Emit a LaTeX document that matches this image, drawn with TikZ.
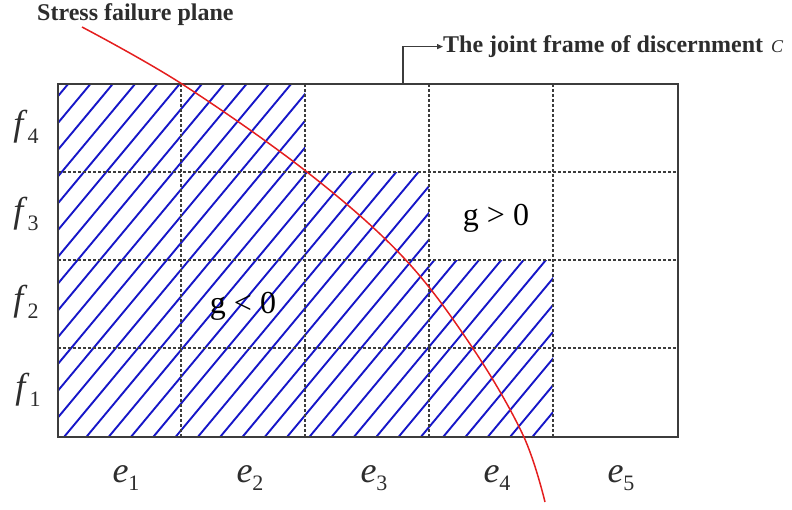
\documentclass[tikz,border=0pt]{standalone}
\usepackage{fontspec}
\setmainfont{Liberation Serif}
\usetikzlibrary{arrows.meta}
\definecolor{hatchblue}{RGB}{22,22,200}
\definecolor{curvered}{RGB}{228,30,30}
\definecolor{ink}{RGB}{45,45,45}
\definecolor{gridgray}{RGB}{60,60,60}
\newcommand{\ilab}[2]{\textit{#1}\raisebox{-8pt}{\fontsize{22}{22}\selectfont #2}}
\tikzset{
  hatchline/.style={draw=hatchblue, line width=1.9pt},
  gridline/.style={draw=gridgray, line width=1.2pt, dash pattern=on 3pt off 2pt},
  border/.style={draw=gridgray, line width=1.5pt},
  failcurve/.style={draw=curvered, line width=1.5pt},
  annot/.style={font=\fontsize{24}{28}\selectfont\bfseries, text=ink, inner sep=0pt},
  axislab/.style={font=\fontsize{36}{40}\selectfont, text=ink, inner sep=0pt, anchor=base},
  glab/.style={font=\fontsize{32}{36}\selectfont, text=black, inner sep=0pt, anchor=base},
  pointer/.style={draw=gridgray, line width=1.3pt, -{Triangle[length=6pt,width=5pt]}}
}
\begin{document}
\begin{tikzpicture}[x=1pt,y=-1pt]
\useasboundingbox (0,0) rectangle (792,509);
% hatched region
\begin{scope}
  \clip (58,84) -- (305,84) -- (305,172) -- (429,172) -- (429,260) -- (553,260) -- (553,437) -- (58,437) -- cycle;
  \foreach \k in {-14,...,22} {
    \draw[hatchline] ({64+22.3*\k-30},473) -- ++(354,-425);
  }
\end{scope}
% dashed grid
\foreach \xx in {181,305,429,553} {
  \draw[gridline] (\xx,84) -- (\xx,437);
}
\foreach \yy in {172,260,348} {
  \draw[gridline] (58,\yy) -- (678,\yy);
}
% frame
\draw[border] (58,84) rectangle (678,437);
% stress failure curve
\draw[failcurve] plot[smooth, tension=0.6] coordinates {(82,27) (182,84) (307,172) (403,257) (472,347) (523,435) (545,502)};
% annotations
\node[annot, anchor=base west] (sfp) at (37,20) {Stress failure plane};
\node[annot, anchor=base west] (jf) at (443,52.5) {The joint frame of discernment\hspace{8pt}{\fontsize{18}{20}\selectfont\mdseries\itshape C}};
\coordinate (foot) at (403,84);
\draw[pointer] (foot) |- (jf.west);
% axis labels
\node[axislab] (f4) at (26,135) {\ilab{f}{4}};
\node[axislab] (f3) at (26,222) {\ilab{f}{3}};
\node[axislab] (f2) at (26,310) {\ilab{f}{2}};
\node[axislab] (f1) at (28,398) {\ilab{f}{1}};
\node[axislab] (e1) at (126,482) {\ilab{e}{1}};
\node[axislab] (e2) at (250,482) {\ilab{e}{2}};
\node[axislab] (e3) at (374,482) {\ilab{e}{3}};
\node[axislab] (e4) at (497,482) {\ilab{e}{4}};
\node[axislab] (e5) at (621,482) {\ilab{e}{5}};
% region labels
\node[glab] (gpos) at (496,225) {g > 0};
\node[glab] (gneg) at (243,313) {g < 0};
\end{tikzpicture}
\end{document}
